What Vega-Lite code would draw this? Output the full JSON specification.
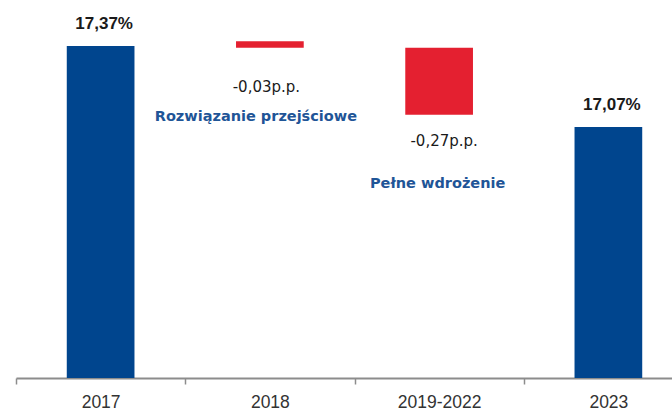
{
  "$schema": "https://vega.github.io/schema/vega-lite/v6.json",
  "width": 656,
  "height": 378,
  "autosize": {"type": "none"},
  "padding": {"left": 16, "top": 0, "right": 0, "bottom": 32},
  "background": "white",
  "config": {"view": {"stroke": null}},
  "data": {
    "values": [
      {"cat": "2017", "from": 16.14, "to": 17.37, "kind": "total", "label": "17,37%", "note": ""},
      {"cat": "2018", "from": 17.387, "to": 17.363, "kind": "change", "label": "-0,03p.p.", "note": "Rozwiązanie przejściowe"},
      {"cat": "2019-2022", "from": 17.363, "to": 17.115, "kind": "change", "label": "-0,27p.p.", "note": "Pełne wdrożenie"},
      {"cat": "2023", "from": 16.14, "to": 17.07, "kind": "total", "label": "17,07%", "note": ""}
    ]
  },
  "encoding": {
    "x": {
      "field": "cat",
      "type": "nominal",
      "sort": ["2017", "2018", "2019-2022", "2023"],
      "scale": {"paddingInner": 0, "paddingOuter": 0, "range": [0, 677]},
      "axis": {
        "title": null,
        "labelAngle": 0,
        "tickBand": "extent",
        "domainColor": "#8c8c8c",
        "domainWidth": 2,
        "tickColor": "#8c8c8c",
        "tickWidth": 1.5,
        "tickSize": 6,
        "labelFont": "Liberation Sans",
        "labelFontSize": 17.5,
        "labelColor": "#333333",
        "labelBaseline": "alphabetic",
        "labelPadding": 23,
        "grid": false
      }
    },
    "y": {
      "field": "to",
      "type": "quantitative",
      "scale": {"domain": [16.14, 17.54], "zero": false, "nice": false},
      "axis": null
    }
  },
  "layer": [
    {
      "mark": {"type": "bar", "width": {"band": 0.4}, "clip": true},
      "encoding": {
        "y": {"field": "from", "type": "quantitative"},
        "y2": {"field": "to"},
        "color": {
          "field": "kind",
          "type": "nominal",
          "scale": {"domain": ["total", "change"], "range": ["#00458E", "#E42030"]},
          "legend": null
        }
      }
    },
    {
      "transform": [{"filter": "datum.kind === 'total'"}],
      "mark": {"type": "text", "font": "Liberation Sans", "fontWeight": "bold", "fontSize": 17, "color": "#1a1a1a", "baseline": "alphabetic", "dx": 3.5, "dy": -17},
      "encoding": {"text": {"field": "label"}}
    },
    {
      "transform": [{"filter": "datum.cat === '2018'"}],
      "mark": {"type": "text", "font": "DejaVu Sans", "fontSize": 15, "color": "#1a1a1a", "baseline": "alphabetic", "dx": -3.5, "dy": 44},
      "encoding": {"text": {"field": "label"}}
    },
    {
      "transform": [{"filter": "datum.cat === '2019-2022'"}],
      "mark": {"type": "text", "font": "DejaVu Sans", "fontSize": 15, "color": "#1a1a1a", "baseline": "alphabetic", "dx": 5, "dy": 31},
      "encoding": {"text": {"field": "label"}}
    },
    {
      "transform": [{"filter": "datum.cat === '2018'"}],
      "mark": {"type": "text", "font": "DejaVu Sans", "fontWeight": "bold", "fontSize": 14.5, "color": "#1F5597", "baseline": "alphabetic", "dx": -14, "dy": 73},
      "encoding": {"text": {"field": "note"}}
    },
    {
      "transform": [{"filter": "datum.cat === '2019-2022'"}],
      "mark": {"type": "text", "font": "DejaVu Sans", "fontWeight": "bold", "fontSize": 14.5, "color": "#1F5597", "baseline": "alphabetic", "dx": -1.5, "dy": 73},
      "encoding": {"text": {"field": "note"}}
    }
  ]
}
